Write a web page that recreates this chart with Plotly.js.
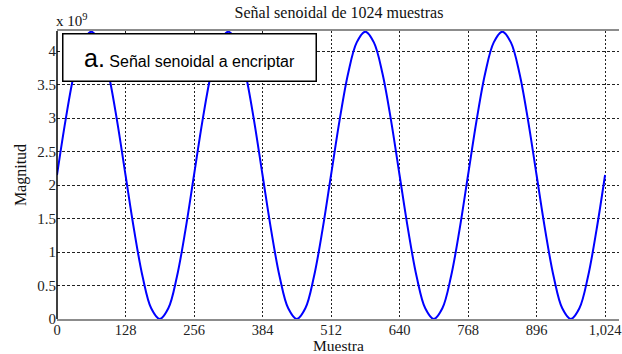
<!DOCTYPE html>
<html>
<head>
<meta charset="utf-8">
<script src="https://cdn.plot.ly/plotly-3.0.1.min.js"></script>
<style>
  html, body { margin: 0; padding: 0; background: #fff; }
  #chart { width: 622px; height: 354px; }
</style>
</head>
<body>
<div id="chart"></div>
<script>
// Sample index (every 16th sample of the 1024-sample signal)
const samples = [
  0, 16, 32, 48, 64, 80, 96, 112, 128, 144, 160, 176, 192, 208, 224, 240,
  256, 272, 288, 304, 320, 336, 352, 368, 384, 400, 416, 432, 448, 464, 480, 496,
  512, 528, 544, 560, 576, 592, 608, 624, 640, 656, 672, 688, 704, 720, 736, 752,
  768, 784, 800, 816, 832, 848, 864, 880, 896, 912, 928, 944, 960, 976, 992, 1008,
  1024
];

// Magnitude in units of 1e9
const magnitude = [
  2.15, 2.97, 3.67, 4.13, 4.29, 4.13, 3.67, 2.97, 2.15, 1.33, 0.63, 0.16, 0.00, 0.16, 0.63, 1.33,
  2.15, 2.97, 3.67, 4.13, 4.29, 4.13, 3.67, 2.97, 2.15, 1.33, 0.63, 0.16, 0.00, 0.16, 0.63, 1.33,
  2.15, 2.97, 3.67, 4.13, 4.29, 4.13, 3.67, 2.97, 2.15, 1.33, 0.63, 0.16, 0.00, 0.16, 0.63, 1.33,
  2.15, 2.97, 3.67, 4.13, 4.29, 4.13, 3.67, 2.97, 2.15, 1.33, 0.63, 0.16, 0.00, 0.16, 0.63, 1.33,
  2.15
];

const xTickVals = [0, 128, 256, 384, 512, 640, 768, 896, 1024];
const xTickText = ['0', '128', '256', '384', '512', '640', '768', '896', '1,024'];
const yTickVals = [0, 0.5, 1, 1.5, 2, 2.5, 3, 3.5, 4];
const yTickText = ['0', '0.5', '1', '1.5', '2', '2.5', '3', '3.5', '4'];

const serif = 'Liberation Serif, Times New Roman, serif';
const sans = 'Liberation Sans, Arial, sans-serif';

const trace = {
  x: samples,
  y: magnitude,
  type: 'scatter',
  mode: 'lines',
  line: { color: '#0000ff', width: 2, shape: 'spline', smoothing: 1 },
  hoverinfo: 'skip'
};

const layout = {
  width: 622,
  height: 354,
  margin: { l: 57, r: 3, t: 31, b: 35 },
  paper_bgcolor: '#ffffff',
  plot_bgcolor: '#ffffff',
  showlegend: false,
  title: {
    text: 'Señal senoidal de 1024 muestras',
    font: { family: serif, size: 16, color: '#111' },
    x: 0.545, xanchor: 'center',
    y: 0.982, yanchor: 'top'
  },
  xaxis: {
    range: [0, 1050],
    tickvals: xTickVals,
    ticktext: xTickText,
    tickfont: { family: serif, size: 14.5, color: '#222' },
    ticks: '',
    ticklen: 0,
    ticklabelstandoff: -3,
    ticklabeloverflow: 'allow',
    showgrid: true,
    gridcolor: '#222',
    gridwidth: 1,
    griddash: '2px,2px',
    zeroline: false,
    showline: true,
    linecolor: '#8c8c8c',
    linewidth: 2,
    mirror: true,
    automargin: false
  },
  yaxis: {
    range: [0, 4.3],
    tickvals: yTickVals,
    ticktext: yTickText,
    tickfont: { family: serif, size: 15, color: '#222' },
    ticks: '',
    ticklen: 0,
    showgrid: true,
    gridcolor: '#222',
    gridwidth: 1,
    griddash: '3px,2px',
    zeroline: false,
    showline: false,
    automargin: false,
    title: {
      text: 'Magnitud',
      font: { family: serif, size: 16, color: '#111' },
      standoff: 6
    }
  },
  shapes: [
    // black left spine
    { type: 'line', xref: 'paper', yref: 'paper', x0: 0, x1: 0, y0: 0, y1: 1,
      line: { color: '#000', width: 1.5 } }
  ],
  annotations: [
    // x-axis title, placed just under the tick labels
    {
      xref: 'paper', yref: 'paper', x: 0.5, y: -26.5 / 288,
      xanchor: 'center', yanchor: 'middle', showarrow: false,
      text: 'Muestra',
      font: { family: serif, size: 15.5, color: '#111' }
    },
    {
      xref: 'paper', yref: 'paper', x: -0.005, y: 1.0,
      xanchor: 'left', yanchor: 'bottom', showarrow: false,
      text: 'x 10<sup>9</sup>',
      font: { family: serif, size: 15, color: '#111' }
    },
    {
      xref: 'paper', yref: 'paper', x: 5 / 562, y: 0.993,
      xanchor: 'left', yanchor: 'top', showarrow: false,
      width: 250, height: 44, align: 'center', valign: 'middle',
      bgcolor: '#ffffff', bordercolor: '#000', borderwidth: 1.5, borderpad: 1,
      text: '<span style="font-size:25px">a.</span> Señal senoidal a encriptar',
      font: { family: sans, size: 16, color: '#000' }
    }
  ]
};

Plotly.newPlot('chart', [trace], layout, { displayModeBar: false, staticPlot: true });
</script>
</body>
</html>
